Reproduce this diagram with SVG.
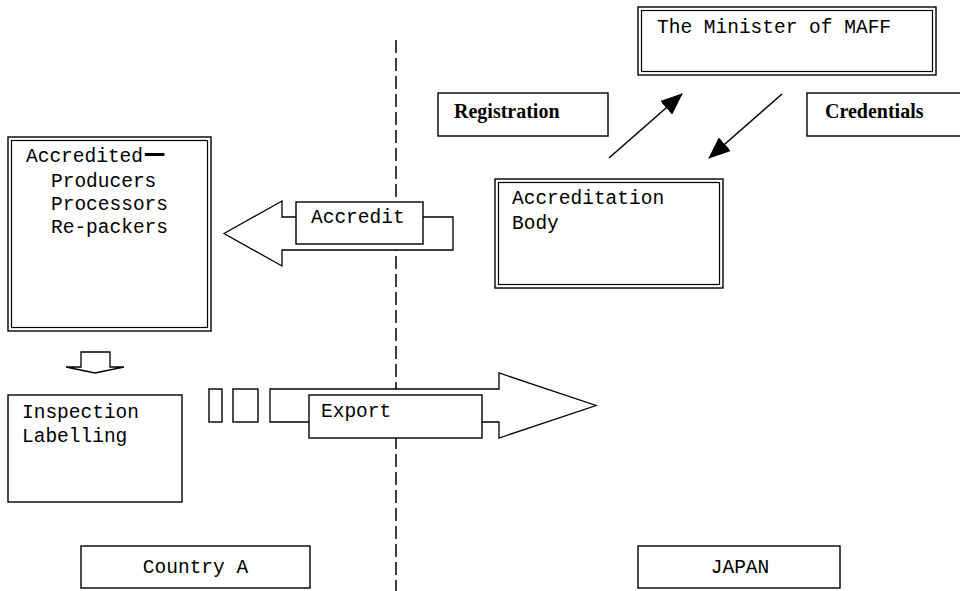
<svg xmlns="http://www.w3.org/2000/svg" width="960" height="591" viewBox="0 0 960 591">
<style>
.box{fill:#fff;stroke:#000;stroke-width:1.4}
.inner{fill:none;stroke:#000;stroke-width:1.2}
.blk{fill:#fff;stroke:#000;stroke-width:1.3;stroke-linejoin:miter}
.t{font-family:"Liberation Mono","DejaVu Sans Mono",monospace;font-size:19.5px;fill:#000}
.b{font-family:"Liberation Serif","Times New Roman",serif;font-size:20px;font-weight:bold;fill:#000}
.ln{stroke:#000;stroke-width:1.5;fill:none}
</style>
<defs>
<marker id="ah" markerUnits="userSpaceOnUse" markerWidth="22" markerHeight="18" refX="21" refY="9" orient="auto">
<path d="M0,0 L22,9 L0,18 Z" fill="#000"/>
</marker>
</defs>
<rect width="960" height="591" fill="#fff"/>
<g id="divider">
<line x1="396" y1="40" x2="396" y2="591" stroke="#000" stroke-width="1.5" stroke-dasharray="13 5"/>
</g>
<g id="connectors">
<line class="ln" x1="609" y1="158" x2="682" y2="94" marker-end="url(#ah)"/>
<line class="ln" x1="782" y1="94" x2="709" y2="158" marker-end="url(#ah)"/>
<polygon class="blk" points="224,233.5 282,201 282,217 453,217 453,250 282,250 282,266"/>
<polygon class="blk" points="270,389 499,389 499,373 596,405.5 499,438 499,422 270,422"/>
<polygon class="blk" points="81,352 110,352 110,367 124,367 95,373 66,367 81,367"/>
</g>
<g id="minister">
<rect class="box" x="638" y="7" width="298" height="68"/>
<rect class="inner" x="641.5" y="10.5" width="291" height="61"/>
<text class="t" x="657" y="33">The Minister of MAFF</text>
</g>
<g id="registration">
<rect class="box" x="438" y="93" width="170" height="43"/>
<text class="b" x="454" y="118">Registration</text>
</g>
<g id="credentials">
<rect class="box" x="807" y="93" width="160" height="43"/>
<text class="b" x="825" y="118">Credentials</text>
</g>
<g id="accreditation-body">
<rect class="box" x="495" y="179" width="228" height="109"/>
<rect class="inner" x="498.5" y="182.5" width="221" height="102"/>
<text class="t" x="512" y="204">Accreditation</text>
<text class="t" x="512" y="229">Body</text>
</g>
<g id="accredited">
<rect class="box" x="8" y="137" width="203" height="194"/>
<rect class="inner" x="11.5" y="140.5" width="196" height="187"/>
<text class="t" x="26" y="162">Accredited<tspan font-size="32" font-weight="bold" dx="2">—</tspan></text>
<text class="t" x="51" y="187">Producers</text>
<text class="t" x="51" y="210">Processors</text>
<text class="t" x="51" y="233">Re-packers</text>
</g>
<g id="accredit">
<rect class="box" x="296" y="202" width="127" height="42"/>
<text class="t" x="311" y="223">Accredit</text>
</g>
<g id="inspection">
<rect class="box" x="8" y="395" width="174" height="107"/>
<text class="t" x="22" y="418">Inspection</text>
<text class="t" x="22" y="442">Labelling</text>
</g>
<g id="gap-marks">
<rect class="box" x="209" y="389" width="13" height="33"/>
<rect class="box" x="233" y="389" width="25" height="33"/>
</g>
<g id="export">
<rect class="box" x="309" y="395" width="173" height="43"/>
<text class="t" x="321" y="417">Export</text>
</g>
<g id="country-a">
<rect class="box" x="81" y="546" width="229" height="42"/>
<text class="t" x="195.5" y="573" text-anchor="middle">Country A</text>
</g>
<g id="japan">
<rect class="box" x="638" y="546" width="202" height="42"/>
<text class="t" x="740" y="573" text-anchor="middle">JAPAN</text>
</g>
</svg>
